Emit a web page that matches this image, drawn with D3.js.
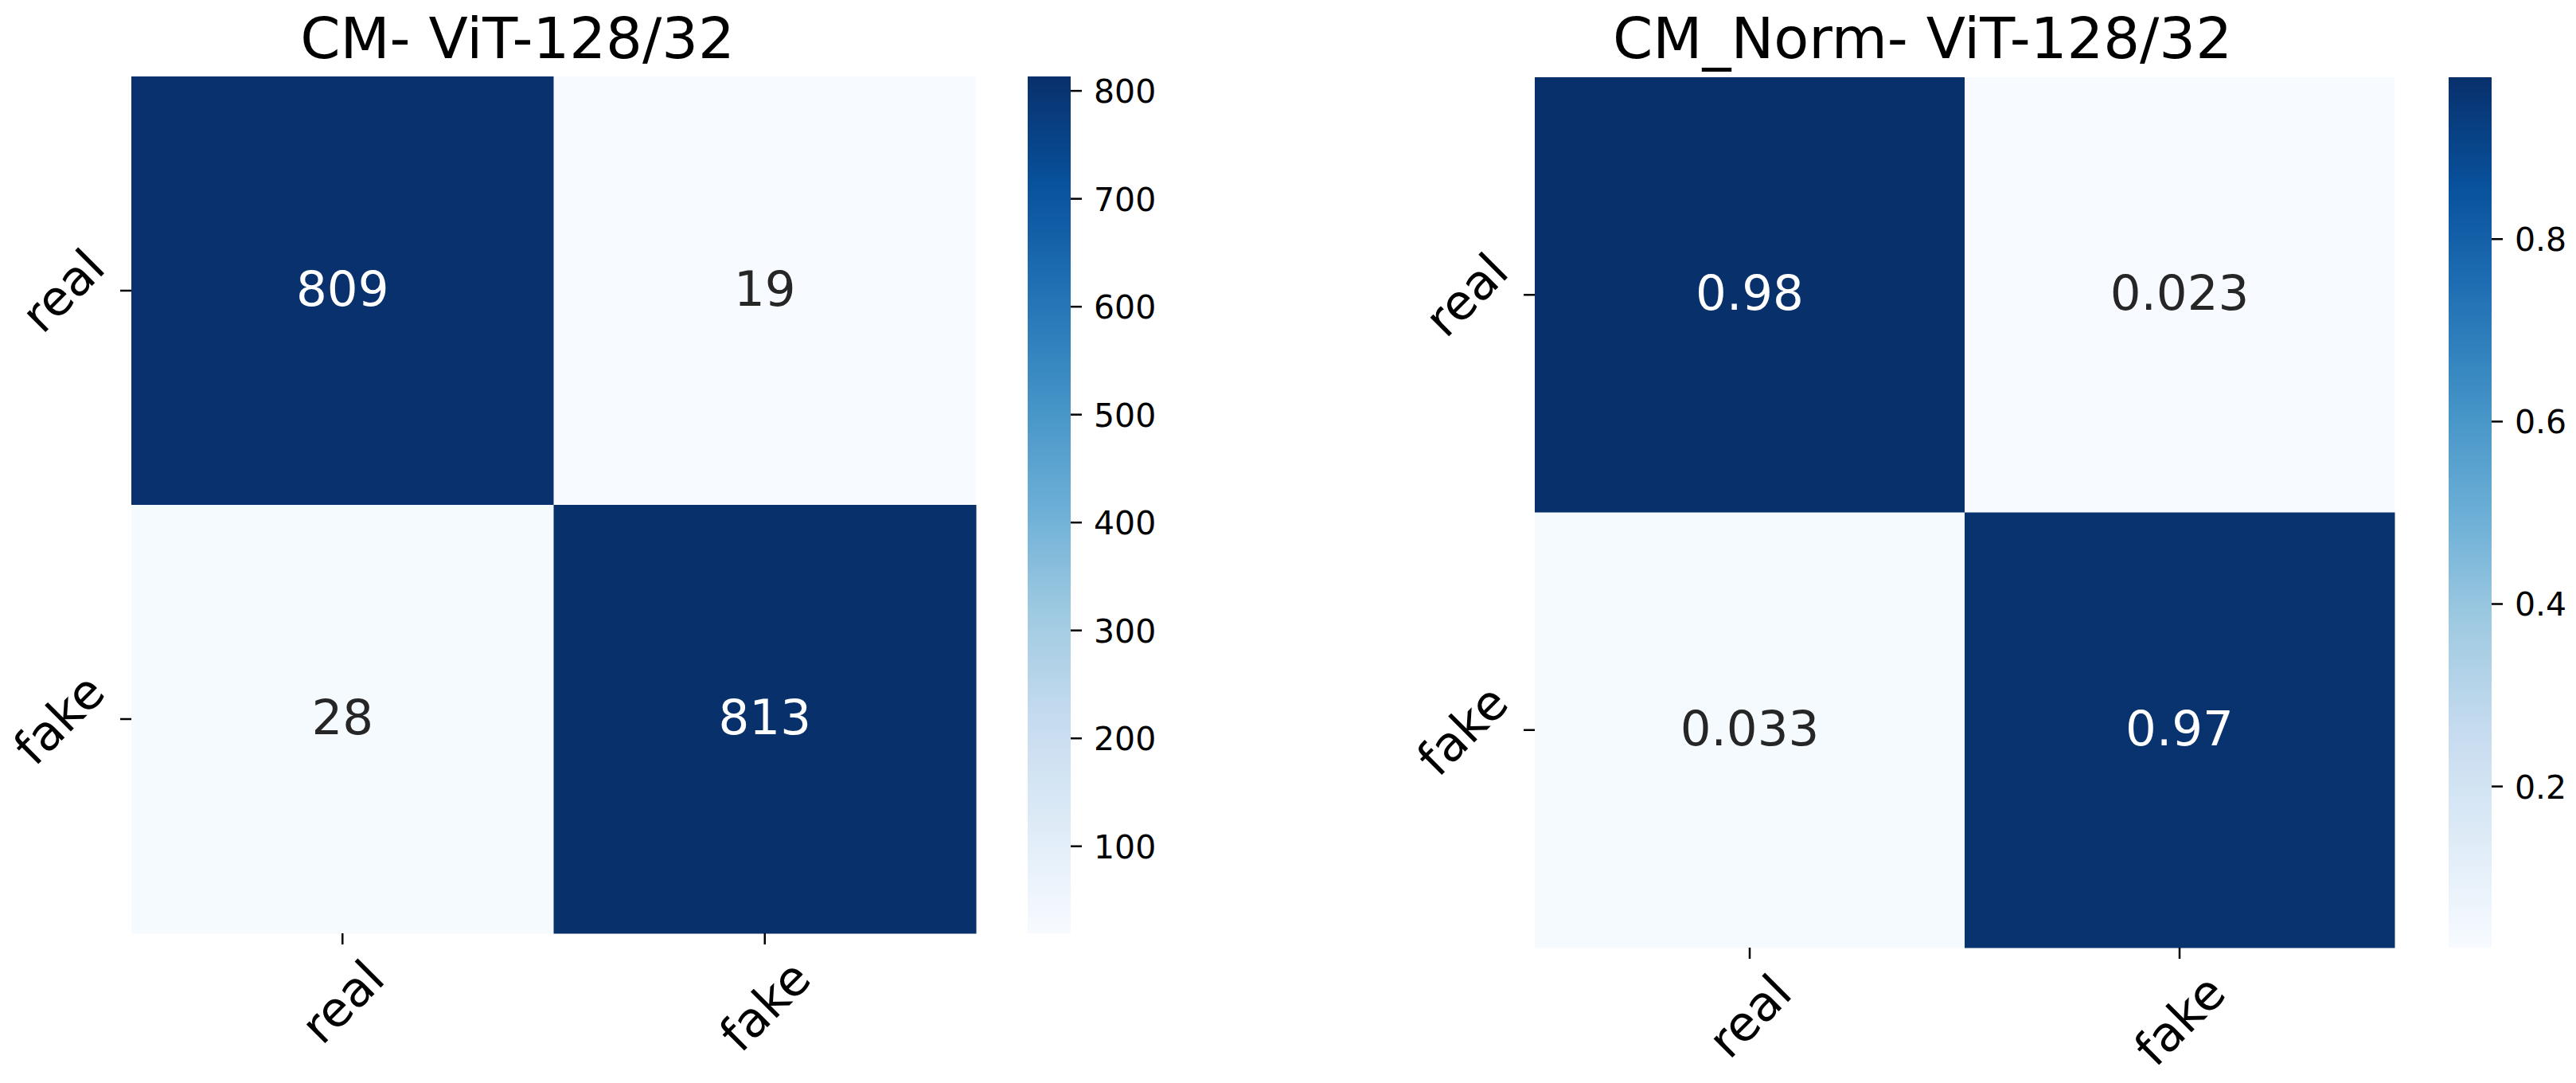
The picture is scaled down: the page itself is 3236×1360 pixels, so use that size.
<!DOCTYPE html>
<html>
<head>
<meta charset="utf-8">
<script src="https://cdn.jsdelivr.net/npm/d3@7"></script>
<style>
  html, body { margin: 0; padding: 0; background: #ffffff; }
  svg { display: block; }
  text { font-family: "DejaVu Sans", sans-serif; }
</style>
</head>
<body>
<svg id="chart" width="3236" height="1360"></svg>
<script>
// ---------- data ----------
const categories = ["real", "fake"];
const countValues = [[809, 19], [28, 813]];
const countLabels = [["809", "19"], ["28", "813"]];
const normValues = [[0.977, 0.0229], [0.0333, 0.9667]];
const normLabels = [["0.98", "0.023"], ["0.033", "0.97"]];
const countTicks = [100, 200, 300, 400, 500, 600, 700, 800];
const normTicks = [0.2, 0.4, 0.6, 0.8];
const titles = ["CM- ViT-128/32", "CM_Norm- ViT-128/32"];

// matplotlib "Blues" (linear segments through the 9 ColorBrewer colours)
const bluesStops = ["#f7fbff", "#deebf7", "#c6dbef", "#9ecae1", "#6baed6", "#4292c6", "#2171b5", "#08519c", "#08306b"];
const blues = d3.piecewise(d3.interpolateRgb, bluesStops);

const svg = d3.select("#chart");
const defs = svg.append("defs");

const panels = [
  { values: countValues, labels: countLabels, ticks: countTicks, fmt: d3.format("d"), title: titles[0],
    x0: 165, x1: 1226, y0: 96, y1: 1172, cb0: 1291, cb1: 1345, titleX: 650 },
  { values: normValues, labels: normLabels, ticks: normTicks, fmt: d3.format(".1f"), title: titles[1],
    x0: 1928, x1: 3008, y0: 97, y1: 1190, cb0: 3076, cb1: 3130, titleX: 2415 }
];

const tickLen = 14, tickW = 2.5;
const tickFs = 61, annFs = 61, cbFs = 41, titleFs = 72;

panels.forEach((p, pi) => {
  const flat = p.values.flat();
  const vmin = d3.min(flat), vmax = d3.max(flat);
  const color = d3.scaleSequential(blues).domain([vmin, vmax]);
  const x = d3.scaleBand().domain(categories).range([p.x0, p.x1]).padding(0);
  const y = d3.scaleBand().domain(categories).range([p.y0, p.y1]).padding(0);

  const g = svg.append("g");

  // cells
  const cells = [];
  categories.forEach((r, ri) => categories.forEach((c, ci) => {
    cells.push({ r, c, v: p.values[ri][ci], lab: p.labels[ri][ci] });
  }));
  g.selectAll("rect.cell").data(cells).join("rect")
    .attr("class", "cell")
    .attr("x", d => x(d.c)).attr("y", d => y(d.r))
    .attr("width", x.bandwidth() + 0.5).attr("height", y.bandwidth() + 0.5)
    .attr("fill", d => color(d.v));

  // annotations
  g.selectAll("text.ann").data(cells).join("text")
    .attr("class", "ann")
    .attr("x", d => x(d.c) + x.bandwidth() / 2)
    .attr("y", d => y(d.r) + y.bandwidth() / 2 + 0.31 * annFs)
    .attr("text-anchor", "middle")
    .attr("font-size", annFs)
    .attr("fill", d => {
      const rgb = d3.rgb(color(d.v));
      const lum = (0.2126 * rgb.r + 0.7152 * rgb.g + 0.0722 * rgb.b) / 255;
      return lum < 0.408 ? "#ffffff" : "#262626";
    })
    .text(d => d.lab);

  // x axis ticks
  const xAxis = d3.axisBottom(x).tickSize(tickLen).tickSizeOuter(0).tickFormat("");
  const gx = g.append("g").attr("transform", `translate(0,${p.y1})`).call(xAxis);
  gx.select(".domain").remove();
  gx.selectAll(".tick line").attr("stroke", "#000").attr("stroke-width", tickW);

  // y axis ticks
  const yAxis = d3.axisLeft(y).tickSize(tickLen).tickSizeOuter(0).tickFormat("");
  const gy = g.append("g").attr("transform", `translate(${p.x0},0)`).call(yAxis);
  gy.select(".domain").remove();
  gy.selectAll(".tick line").attr("stroke", "#000").attr("stroke-width", tickW);

  const H = 1.164 * tickFs, pad = 6, r2 = Math.SQRT2;
  // x tick labels (rotated 45°, centred)
  categories.forEach(c => {
    const t = g.append("text").attr("font-size", tickFs).attr("text-anchor", "middle")
      .attr("dominant-baseline", "central").text(c);
    const L = t.node().getComputedTextLength();
    const cx = x(c) + x.bandwidth() / 2;
    const cy = p.y1 + tickLen + pad + (L + H) / (2 * r2);
    t.attr("transform", `translate(${cx},${cy}) rotate(-45)`);
  });
  // y tick labels (rotated 45°, right aligned)
  categories.forEach(c => {
    const t = g.append("text").attr("font-size", tickFs).attr("text-anchor", "middle")
      .attr("dominant-baseline", "central").text(c);
    const L = t.node().getComputedTextLength();
    const cy = y(c) + y.bandwidth() / 2;
    const cx = p.x0 - tickLen - pad - (L + H) / (2 * r2);
    t.attr("transform", `translate(${cx},${cy}) rotate(-45)`);
  });

  // title
  g.append("text").attr("x", p.titleX).attr("y", 73).attr("text-anchor", "middle")
    .attr("font-size", titleFs).attr("fill", "#000").text(p.title);

  // colorbar
  const gradId = "grad" + pi;
  const grad = defs.append("linearGradient").attr("id", gradId)
    .attr("x1", 0).attr("y1", 1).attr("x2", 0).attr("y2", 0);
  d3.range(0, 1.0001, 0.02).forEach(t => {
    grad.append("stop").attr("offset", t).attr("stop-color", blues(t));
  });
  const cScale = d3.scaleLinear().domain([vmin, vmax]).range([p.y1, p.y0]);
  g.append("rect").attr("x", p.cb0).attr("y", p.y0)
    .attr("width", p.cb1 - p.cb0).attr("height", p.y1 - p.y0)
    .attr("fill", `url(#${gradId})`);
  const cAxis = d3.axisRight(cScale).tickValues(p.ticks).tickFormat(p.fmt)
    .tickSize(tickLen).tickPadding(15);
  const gc = g.append("g").attr("transform", `translate(${p.cb1},0)`).call(cAxis);
  gc.select(".domain").remove();
  gc.selectAll(".tick line").attr("stroke", "#000").attr("stroke-width", tickW);
  gc.selectAll(".tick text").attr("font-size", cbFs).attr("fill", "#000")
    .attr("font-family", "DejaVu Sans").attr("dy", "0.365em");
});
</script>
</body>
</html>
